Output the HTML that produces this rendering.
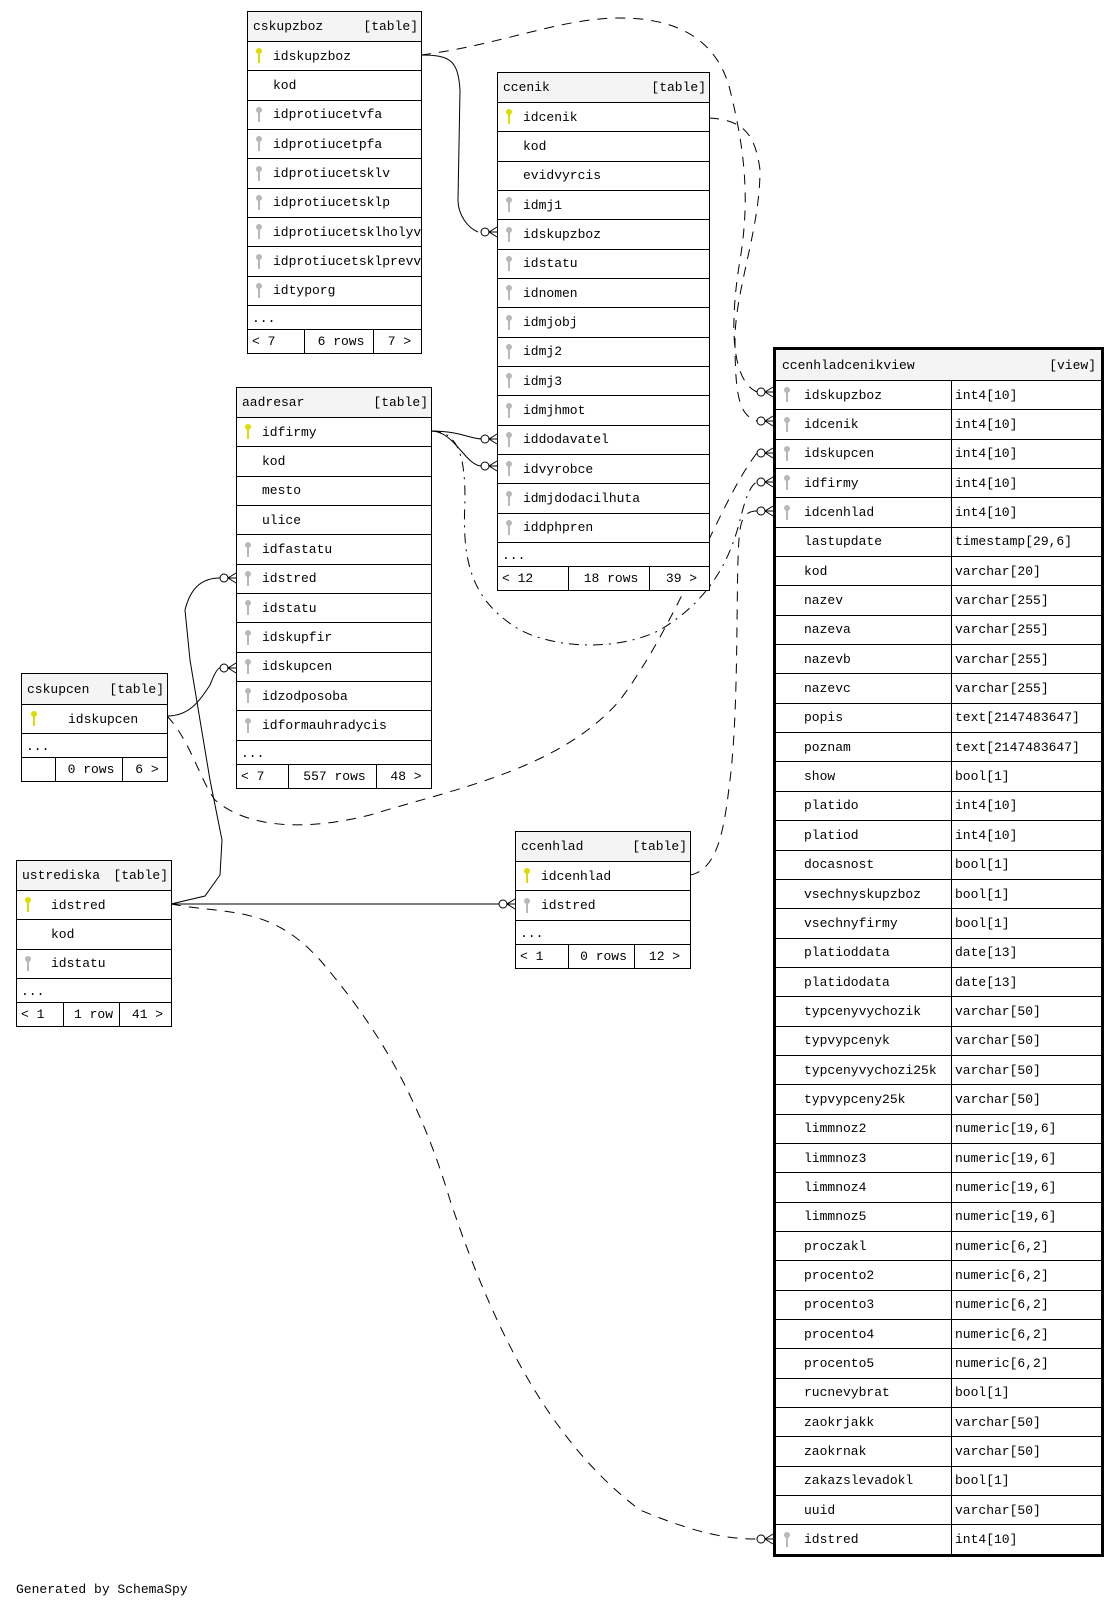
<!DOCTYPE html>
<html><head><meta charset="utf-8"><style>
body{margin:0;width:1120px;height:1611px;background:#fff;position:relative;overflow:hidden;font:13px "Liberation Mono","DejaVu Sans Mono",monospace;color:#000}
.t{position:absolute;border:1px solid #000;background:#fff;box-sizing:border-box;z-index:2}
.r{height:29.35px;border-top:1px solid #000;box-sizing:border-box;display:flex;align-items:center;position:relative;padding-left:25px;white-space:nowrap;overflow:hidden}
.h{background:#f4f4f4;border-top:none;justify-content:space-between;padding:0 3px 0 5px;height:29px}
.d{height:24px;padding-left:4px;align-items:center;padding-top:2px}
.f{height:24px;padding:0;border-top:1px solid #000}
.f span{display:flex;align-items:center;height:100%;border-right:1px solid #000;box-sizing:border-box;padding-left:4px;justify-content:center}
.f span:first-child{justify-content:flex-start}
.f span:last-child{border-right:none}
.k{position:absolute;left:8px;top:50%;margin-top:-8px;width:6px;height:16px}
.k::before{content:"";position:absolute;left:0;top:0;width:6px;height:6px;border-radius:50%;background:currentColor}
.k::after{content:"";position:absolute;left:2px;top:5px;width:2px;height:10px;background:currentColor}
.p{color:#dcdc00}.g{color:#b8b8b8}
.v{border:3px solid #000}
.v .r{padding-left:0}
.v .r .n{width:176px;height:100%;border-right:1px solid #000;box-sizing:border-box;display:flex;align-items:center;padding-left:28px;position:relative}
.v .r .ty{padding-left:3px}
svg.c{position:absolute;left:0;top:0;z-index:1}
</style></head><body>

<svg class="c" width="1120" height="1611" fill="none" stroke="#000" stroke-width="1">
<g>
<path d="M421,55 C450,55 458,60 460,90 L458,200 C458,215 468,228 478,232"/>
<path d="M421,55 C500,45 560,18 620,18 C690,18 720,50 730,90 C745,150 750,200 740,260 C730,320 730,380 757,392" stroke-dasharray="10,8"/>
<path d="M709,118 C740,120 755,130 760,170 C760,230 735,290 735,340 C735,400 740,415 757,421" stroke-dasharray="10,8"/>
<path d="M431,431 C460,431 470,439 482,439"/>
<path d="M431,431 C455,431 465,466 482,466"/>
<path d="M431,431 C460,431 465,460 465,500 C462,560 470,600 520,630 C560,650 620,650 660,630 C710,600 730,560 740,520 C745,500 750,485 757,482" stroke-dasharray="10,6,2,6"/>
<path d="M167,716 C190,740 200,780 215,800 C250,830 310,830 370,815 C450,790 560,770 620,700 C680,620 720,500 757,453" stroke-dasharray="10,8"/>
<path d="M690,875 C720,870 725,820 730,780 C740,700 735,560 740,530 C742,515 748,511 757,511" stroke-dasharray="10,8"/>
<path d="M167,716 C190,716 200,700 210,685 C215,672 218,668 220,668"/>
<path d="M171,904 L205,896 L220,875 L222,840 L210,780 L190,660 L185,610 C190,590 200,578 220,578"/>
<path d="M171,904 L499,904"/>
<path d="M171,904 C230,915 270,905 320,960 C380,1030 420,1100 450,1200 C500,1350 560,1450 640,1510 C700,1535 730,1539 757,1539" stroke-dasharray="10,8"/>
</g>
<g fill="#fff">
<circle cx="485" cy="232" r="4"/><path d="M489,232L497,227M489,232L497,232M489,232L497,237"/>
<circle cx="485" cy="439" r="4"/><path d="M489,439L497,434M489,439L497,439M489,439L497,444"/>
<circle cx="485" cy="466" r="4"/><path d="M489,466L497,461M489,466L497,466M489,466L497,471"/>
<circle cx="224" cy="578" r="4"/><path d="M228,578L236,573M228,578L236,578M228,578L236,583"/>
<circle cx="224" cy="668" r="4"/><path d="M228,668L236,663M228,668L236,668M228,668L236,673"/>
<circle cx="503" cy="904" r="4"/><path d="M507,904L515,899M507,904L515,904M507,904L515,909"/>
<circle cx="761" cy="392" r="4"/><path d="M765,392L773,387M765,392L773,392M765,392L773,397"/>
<circle cx="761" cy="421" r="4"/><path d="M765,421L773,416M765,421L773,421M765,421L773,426"/>
<circle cx="761" cy="453" r="4"/><path d="M765,453L773,448M765,453L773,453M765,453L773,458"/>
<circle cx="761" cy="482" r="4"/><path d="M765,482L773,477M765,482L773,482M765,482L773,487"/>
<circle cx="761" cy="511" r="4"/><path d="M765,511L773,506M765,511L773,511M765,511L773,516"/>
<circle cx="761" cy="1539" r="4"/><path d="M765,1539L773,1534M765,1539L773,1539M765,1539L773,1544"/>
</g>
</svg>

<div class="t" style="left:247px;top:11px;width:175px">
<div class="r h"><span>cskupzboz</span><span>[table]</span></div>
<div class="r"><i class="k p"></i>idskupzboz</div>
<div class="r">kod</div>
<div class="r"><i class="k g"></i>idprotiucetvfa</div>
<div class="r"><i class="k g"></i>idprotiucetpfa</div>
<div class="r"><i class="k g"></i>idprotiucetsklv</div>
<div class="r"><i class="k g"></i>idprotiucetsklp</div>
<div class="r"><i class="k g"></i>idprotiucetsklholyv</div>
<div class="r"><i class="k g"></i>idprotiucetsklprevv</div>
<div class="r"><i class="k g"></i>idtyporg</div>
<div class="r d">...</div>
<div class="r f"><span style="width:57px">&lt; 7</span><span style="width:69px">6 rows</span><span style="flex:1">7 &gt;</span></div>
</div>

<div class="t" style="left:497px;top:72px;width:213px">
<div class="r h"><span>ccenik</span><span>[table]</span></div>
<div class="r"><i class="k p"></i>idcenik</div>
<div class="r">kod</div>
<div class="r">evidvyrcis</div>
<div class="r"><i class="k g"></i>idmj1</div>
<div class="r"><i class="k g"></i>idskupzboz</div>
<div class="r"><i class="k g"></i>idstatu</div>
<div class="r"><i class="k g"></i>idnomen</div>
<div class="r"><i class="k g"></i>idmjobj</div>
<div class="r"><i class="k g"></i>idmj2</div>
<div class="r"><i class="k g"></i>idmj3</div>
<div class="r"><i class="k g"></i>idmjhmot</div>
<div class="r"><i class="k g"></i>iddodavatel</div>
<div class="r"><i class="k g"></i>idvyrobce</div>
<div class="r"><i class="k g"></i>idmjdodacilhuta</div>
<div class="r"><i class="k g"></i>iddphpren</div>
<div class="r d">...</div>
<div class="r f"><span style="width:71px">&lt; 12</span><span style="width:81px">18 rows</span><span style="flex:1">39 &gt;</span></div>
</div>

<div class="t" style="left:236px;top:387px;width:196px">
<div class="r h"><span>aadresar</span><span>[table]</span></div>
<div class="r"><i class="k p"></i>idfirmy</div>
<div class="r">kod</div>
<div class="r">mesto</div>
<div class="r">ulice</div>
<div class="r"><i class="k g"></i>idfastatu</div>
<div class="r"><i class="k g"></i>idstred</div>
<div class="r"><i class="k g"></i>idstatu</div>
<div class="r"><i class="k g"></i>idskupfir</div>
<div class="r"><i class="k g"></i>idskupcen</div>
<div class="r"><i class="k g"></i>idzodposoba</div>
<div class="r"><i class="k g"></i>idformauhradycis</div>
<div class="r d">...</div>
<div class="r f"><span style="width:52px">&lt; 7</span><span style="width:88px">557 rows</span><span style="flex:1">48 &gt;</span></div>
</div>

<div class="t" style="left:21px;top:673px;width:147px">
<div class="r h" style="height:30px"><span>cskupcen</span><span>[table]</span></div>
<div class="r" style="padding-left:46px"><i class="k p" style="left:9px"></i>idskupcen</div>
<div class="r d">...</div>
<div class="r f"><span style="width:34px"></span><span style="width:67px">0 rows</span><span style="flex:1">6 &gt;</span></div>
</div>

<div class="t" style="left:16px;top:860px;width:156px">
<div class="r h"><span>ustrediska</span><span>[table]</span></div>
<div class="r" style="padding-left:34px"><i class="k p"></i>idstred</div>
<div class="r" style="padding-left:34px">kod</div>
<div class="r" style="padding-left:34px"><i class="k g"></i>idstatu</div>
<div class="r d">...</div>
<div class="r f"><span style="width:47px">&lt; 1</span><span style="width:56px">1 row</span><span style="flex:1">41 &gt;</span></div>
</div>

<div class="t" style="left:515px;top:831px;width:176px">
<div class="r h"><span>ccenhlad</span><span>[table]</span></div>
<div class="r"><i class="k p"></i>idcenhlad</div>
<div class="r"><i class="k g"></i>idstred</div>
<div class="r d">...</div>
<div class="r f"><span style="width:53px">&lt; 1</span><span style="width:66px">0 rows</span><span style="flex:1">12 &gt;</span></div>
</div>

<div class="t v" style="left:773px;top:347px;width:331px">
<div class="r h" style="height:30px;padding:0 5px 0 6px"><span>ccenhladcenikview</span><span>[view]</span></div>
<div class="r"><span class="n"><i class="k g"></i>idskupzboz</span><span class="ty">int4[10]</span></div>
<div class="r"><span class="n"><i class="k g"></i>idcenik</span><span class="ty">int4[10]</span></div>
<div class="r"><span class="n"><i class="k g"></i>idskupcen</span><span class="ty">int4[10]</span></div>
<div class="r"><span class="n"><i class="k g"></i>idfirmy</span><span class="ty">int4[10]</span></div>
<div class="r"><span class="n"><i class="k g"></i>idcenhlad</span><span class="ty">int4[10]</span></div>
<div class="r"><span class="n">lastupdate</span><span class="ty">timestamp[29,6]</span></div>
<div class="r"><span class="n">kod</span><span class="ty">varchar[20]</span></div>
<div class="r"><span class="n">nazev</span><span class="ty">varchar[255]</span></div>
<div class="r"><span class="n">nazeva</span><span class="ty">varchar[255]</span></div>
<div class="r"><span class="n">nazevb</span><span class="ty">varchar[255]</span></div>
<div class="r"><span class="n">nazevc</span><span class="ty">varchar[255]</span></div>
<div class="r"><span class="n">popis</span><span class="ty">text[2147483647]</span></div>
<div class="r"><span class="n">poznam</span><span class="ty">text[2147483647]</span></div>
<div class="r"><span class="n">show</span><span class="ty">bool[1]</span></div>
<div class="r"><span class="n">platido</span><span class="ty">int4[10]</span></div>
<div class="r"><span class="n">platiod</span><span class="ty">int4[10]</span></div>
<div class="r"><span class="n">docasnost</span><span class="ty">bool[1]</span></div>
<div class="r"><span class="n">vsechnyskupzboz</span><span class="ty">bool[1]</span></div>
<div class="r"><span class="n">vsechnyfirmy</span><span class="ty">bool[1]</span></div>
<div class="r"><span class="n">platioddata</span><span class="ty">date[13]</span></div>
<div class="r"><span class="n">platidodata</span><span class="ty">date[13]</span></div>
<div class="r"><span class="n">typcenyvychozik</span><span class="ty">varchar[50]</span></div>
<div class="r"><span class="n">typvypcenyk</span><span class="ty">varchar[50]</span></div>
<div class="r"><span class="n">typcenyvychozi25k</span><span class="ty">varchar[50]</span></div>
<div class="r"><span class="n">typvypceny25k</span><span class="ty">varchar[50]</span></div>
<div class="r"><span class="n">limmnoz2</span><span class="ty">numeric[19,6]</span></div>
<div class="r"><span class="n">limmnoz3</span><span class="ty">numeric[19,6]</span></div>
<div class="r"><span class="n">limmnoz4</span><span class="ty">numeric[19,6]</span></div>
<div class="r"><span class="n">limmnoz5</span><span class="ty">numeric[19,6]</span></div>
<div class="r"><span class="n">proczakl</span><span class="ty">numeric[6,2]</span></div>
<div class="r"><span class="n">procento2</span><span class="ty">numeric[6,2]</span></div>
<div class="r"><span class="n">procento3</span><span class="ty">numeric[6,2]</span></div>
<div class="r"><span class="n">procento4</span><span class="ty">numeric[6,2]</span></div>
<div class="r"><span class="n">procento5</span><span class="ty">numeric[6,2]</span></div>
<div class="r"><span class="n">rucnevybrat</span><span class="ty">bool[1]</span></div>
<div class="r"><span class="n">zaokrjakk</span><span class="ty">varchar[50]</span></div>
<div class="r"><span class="n">zaokrnak</span><span class="ty">varchar[50]</span></div>
<div class="r"><span class="n">zakazslevadokl</span><span class="ty">bool[1]</span></div>
<div class="r"><span class="n">uuid</span><span class="ty">varchar[50]</span></div>
<div class="r"><span class="n"><i class="k g"></i>idstred</span><span class="ty">int4[10]</span></div>
</div>

<div style="position:absolute;left:16px;top:1582px;font-size:13px">Generated by SchemaSpy</div>
</body></html>
